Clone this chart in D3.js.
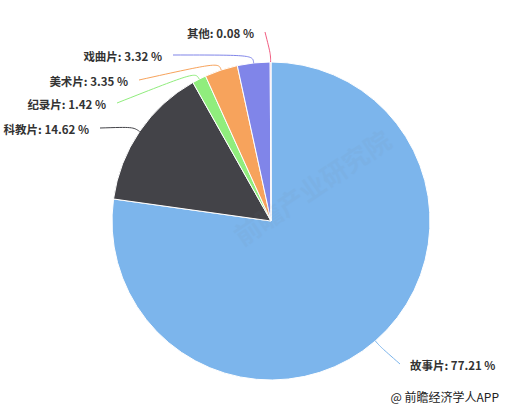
<!DOCTYPE html>
<html>
<head>
<meta charset="utf-8">
<script src="https://cdn.jsdelivr.net/npm/d3@7"></script>
<style>
  html, body { margin: 0; padding: 0; background: #fff; }
  svg { display: block; font-family: "Noto Sans CJK SC", "Noto Sans", sans-serif; }
</style>
</head>
<body>
<div id="chart"></div>
<script>
"use strict";

// film types and their share (%)
var categories = ["故事片", "科教片", "纪录片", "美术片", "戏曲片", "其他"];
var shares = [77.21, 14.62, 1.42, 3.35, 3.32, 0.08];
var colors = ["#7cb5ec", "#434348", "#90ed7d", "#f7a35c", "#8085e9", "#f15c80"];

var width = 506, height = 409;
var cx = 271, cy = 221, radius = 159;

// label placement (text anchor x, text centre y), same order as categories
var labelAt = [
	{ x: 410, y: 366, anchor: "start" },
	{ x: 89,  y: 130, anchor: "end" },
	{ x: 106, y: 105, anchor: "end" },
	{ x: 128, y: 82,  anchor: "end" },
	{ x: 162, y: 57,  anchor: "end" },
	{ x: 254, y: 34,  anchor: "end" }
];

var svg = d3.select("#chart").append("svg")
	.attr("width", width)
	.attr("height", height);

var pie = d3.pie().sort(null).value(function(d){ return d; });
var arcs = pie(shares);

var arc = d3.arc().innerRadius(0).outerRadius(radius);
var edgeArc = d3.arc().innerRadius(radius).outerRadius(radius);
var breakArc = d3.arc().innerRadius(radius + 8).outerRadius(radius + 8);

var g = svg.append("g").attr("transform", "translate(" + cx + "," + cy + ")");

g.selectAll("path.slice")
	.data(arcs).enter()
	.append("path")
		.attr("class", "slice")
		.attr("d", arc)
		.attr("fill", function(d, i){ return colors[i]; })
		.attr("stroke", "#fff")
		.attr("stroke-width", 1)
		.attr("stroke-linejoin", "round");

// watermark (very faint)
svg.append("text")
	.attr("transform", "translate(318,196) rotate(-34)")
	.attr("text-anchor", "middle")
	.attr("font-size", 26)
	.attr("font-weight", "bold")
	.attr("fill", "#6f7d8a")
	.attr("opacity", 0.06)
	.text("前瞻产业研究院");

// connectors
var conn = svg.append("g").attr("fill", "none").attr("stroke-width", 1);
arcs.forEach(function(d, i)
{
	var L = labelAt[i];
	var e = edgeArc.centroid(d), b = breakArc.centroid(d);
	var sx = L.anchor == "end" ? L.x + 11 : L.x - 10;
	var sy = L.y - 2;
	var ex = cx + e[0], ey = cy + e[1];
	var bx = cx + b[0], by = cy + b[1];
	conn.append("path")
		.attr("stroke", colors[i])
		.attr("d", "M" + sx + "," + sy + " C" + bx + "," + by + " " + bx + "," + by + " " + ex + "," + ey);
});

// labels
svg.append("g").selectAll("text")
	.data(arcs).enter()
	.append("text")
		.attr("x", function(d, i){ return labelAt[i].x; })
		.attr("y", function(d, i){ return labelAt[i].y + 4; })
		.attr("text-anchor", function(d, i){ return labelAt[i].anchor; })
		.attr("font-size", 11.5)
		.attr("font-weight", "bold")
		.attr("fill", "#333")
		.text(function(d, i){ return categories[i] + ": " + shares[i].toFixed(2) + " %"; });

// credit
svg.append("text")
	.attr("x", 499)
	.attr("y", 402)
	.attr("text-anchor", "end")
	.attr("font-size", 12)
	.attr("fill", "#222")
	.text("@ 前瞻经济学人APP");
</script>
</body>
</html>
